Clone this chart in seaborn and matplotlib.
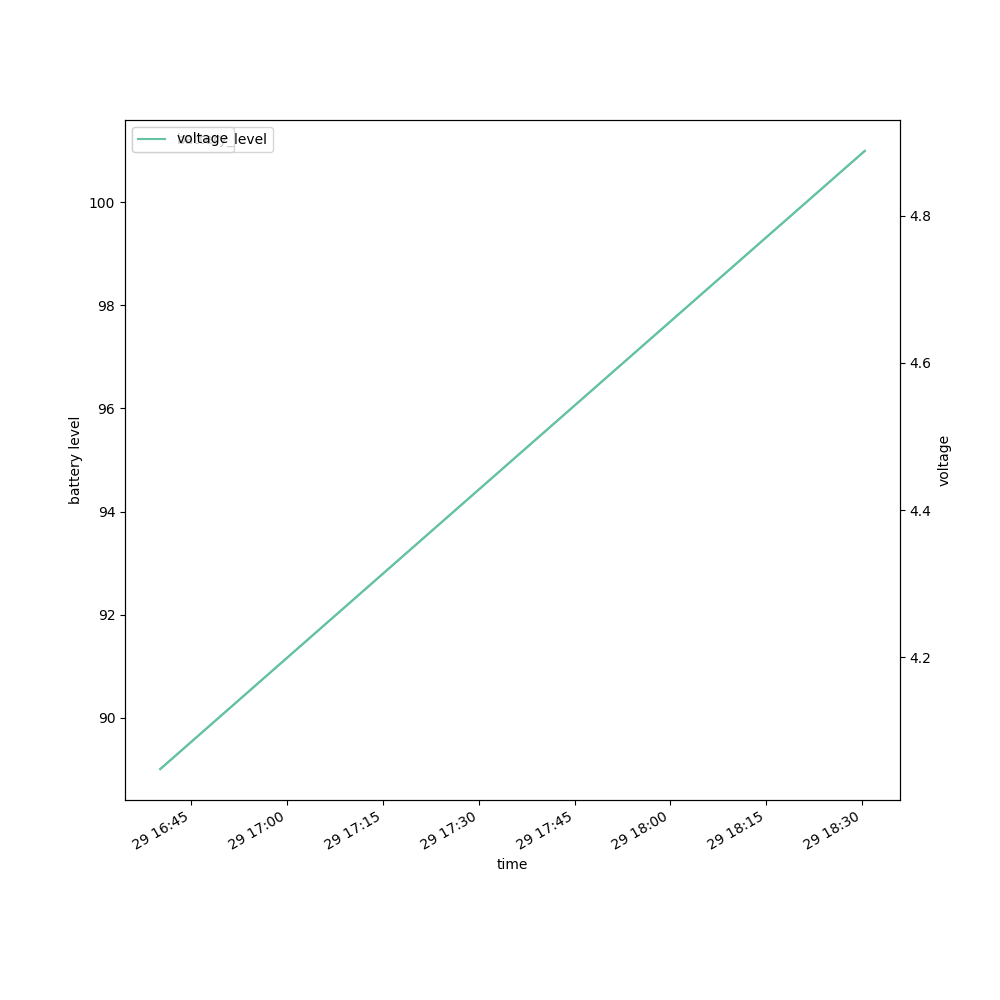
import pandas as pd
import matplotlib
matplotlib.use('Agg')
import matplotlib.pyplot as plt
import seaborn as sns

time = ['2023-03-29 16:40:08', '2023-03-29 18:30:26']
battery_level = [89, 101]
voltage = [4.048, 4.888]

df = pd.DataFrame({'time': pd.to_datetime(time),
                   'battery_level': battery_level,
                   'voltage': voltage})

color = sns.color_palette('Set2')[0]

fig, ax1 = plt.subplots(figsize=(10, 10))
sns.lineplot(data=df, x='time', y='battery_level', color=color, label='battery_level', ax=ax1)
ax1.set_ylabel('battery level')
ax1.legend(loc='upper left')

ax2 = ax1.twinx()
sns.lineplot(data=df, x='time', y='voltage', color=color, label='voltage', ax=ax2)
ax2.set_ylabel('voltage')
ax2.legend(loc='upper left')

ax1.set_xlabel('time')
fig.autofmt_xdate()
plt.savefig('out.png', dpi=100)
